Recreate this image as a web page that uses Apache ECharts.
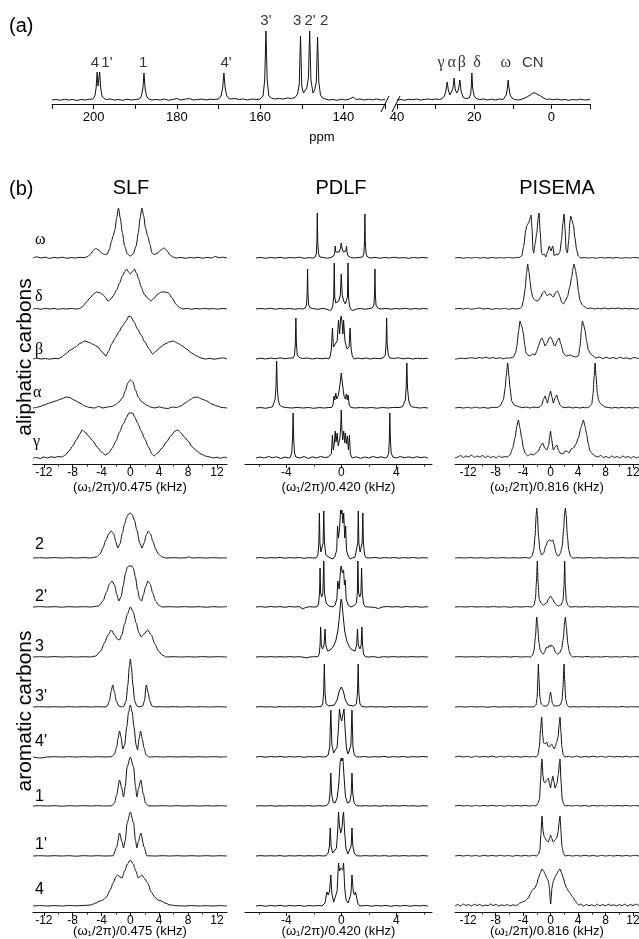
<!DOCTYPE html>
<html><head><meta charset="utf-8">
<script src="https://cdn.jsdelivr.net/npm/echarts@6.0.0/dist/echarts.min.js"></script>
<style>html,body{margin:0;padding:0;background:#fff}#c{width:639px;height:939px}</style>
</head><body><div id="c"></div>
<script>
// ---------------- DATA ----------------
// Panel (a): 1D 13C spectrum, [ppm, intensity]
const specLeft = [[210,0],[209,0.5],[208,-0.3],[207,0.8],[206,0],[205,0.5],[204,-0.5],[203,0.5],[202,0],[201,0.8],[200.2,1],[199.7,4],[199.4,12],[199.15,28],[198.95,14],[198.8,12],[198.55,28],[198.3,12],[198.0,4],[197.5,1.5],[197,0.5],[196,1],[195,0],[194,0.5],[193,-0.3],[192,0.8],[191,0],[190,0.5],[189,1],[188.5,4],[188.15,12],[187.9,27],[187.65,12],[187.3,4],[186.8,1],[186,0],[185,0.5],[184,0],[183,1],[182,-0.3],[181,0.5],[180,1.5],[179,0],[178,0.8],[177,1.5],[176,0],[175,0.5],[174,1],[173,0],[172,0.8],[171,0.5],[170,1],[169.4,4],[169.0,12],[168.7,27],[168.4,12],[168.0,4],[167.4,1],[167,0.5],[166,1.5],[165,0.5],[164,1],[163,0],[162,1],[161,0.5],[160,1],[159.3,4],[158.9,20],[158.6,69],[158.3,20],[157.9,4],[157.3,2],[156.5,1],[155.5,1.5],[154.5,1],[153.5,2],[152.5,1.5],[151.6,2.5],[151.0,6],[150.6,16],[150.3,64],[150.0,14],[149.6,7],[149.2,6],[148.8,12],[148.4,22],[148.1,69],[147.8,20],[147.3,7],[146.9,10],[146.5,18],[146.2,63],[145.9,18],[145.5,5],[145.0,2],[144.3,1],[143.5,0],[142.5,0.5],[141.5,-0.3],[140.5,0.8],[139.5,0],[138.5,1],[137.6,3],[137,0.5],[136,1],[135,0],[134,0.8],[133,0.2],[132,1],[131,0],[130,0.5]];
const specRight = [[40,0],[39,0.5],[38,-0.3],[37,0.8],[36,0.3],[35,1],[34,0],[33,0.5],[32,1],[31,0.5],[30,1],[29,0.5],[28.3,1.5],[27.7,4],[27.3,10],[27.0,18],[26.7,10],[26.3,5],[25.9,8],[25.5,12],[25.2,22],[24.9,10],[24.5,7],[24.1,10],[23.7,20],[23.4,9],[22.9,3],[22.3,1.5],[21.8,1],[21.3,2],[20.9,6],[20.75,14],[20.6,27],[20.4,12],[20.0,4],[19.5,1.5],[18.5,0.5],[17.5,1],[16.5,0],[15.5,0.8],[14.5,0],[13.5,1],[12.5,0.5],[12,1.5],[11.7,5],[11.4,12],[11.2,20],[11.0,12],[10.7,5],[10.2,2],[9.5,0.5],[8.5,0],[7.5,1],[7,1.5],[6.3,3],[5.5,5],[4.8,7],[4.2,7],[3.5,5.5],[2.8,4],[2.0,2],[1.2,0.5],[0.5,1],[-0.5,0.3],[-1.5,1],[-2.5,0],[-3.5,0.5],[-4.5,-0.3],[-5.5,0.5],[-6.5,0],[-7.5,0.8],[-8.5,0],[-10,0.5]];
const peakLabelsLeft = ["4","1'","1","4'","3'","3","2'","2"];
const peakLabelPpmLeft = [199.7,196.8,188.1,168.2,158.6,151.1,148.0,144.6];
const peakLabelLevelLeft = [37,37,37,37,79,79,79,79];
const peakLabelsRight = ["γ","α","β","δ","ω","CN"];
const peakLabelPpmRight = [28.6,25.8,23.2,19.3,11.8,4.8];
const peakLabelLevelRight = [37,37,37,37,37,37];
const ppmTicksLeft = [140,160,180,200];
const ppmMinorLeft = [130,140,150,160,170,180,190,200,210];
const ppmTicksRight = [0,20,40];
const ppmMinorRight = [-10,0,10,20,30,40];

// Panel (b) row labels
const aliLabels = ["ω","δ","β","α","γ"];
const aroLabels = ["2","2'","3","3'","4'","1","1'","4"];
const slfTicks = [-12,-8,-4,0,4,8,12], slfMinor = [-10,-6,-2,2,6,10];
const pdlfTicks = [-4,0,4], pdlfMinor = [-6,-2,2,6];
const pisTicks = [-12,-8,-4,0,4,8,12], pisMinor = [-10,-6,-2,2,6,10];

// SLF aliphatic
const slfOmega = [[-13.5,0],[-13,1.2],[-12.4,0],[-11.8,0.8],[-11.2,-0.4],[-10.6,0.6],[-10,0],[-9.4,0.8],[-8.8,-0.3],[-8.2,0.5],[-7.6,0],[-7,0.7],[-6.4,0.3],[-5.9,1.5],[-5.5,4],[-5.1,8],[-4.8,9.5],[-4.4,8],[-4,5],[-3.6,3.5],[-3.2,4],[-2.9,9],[-2.6,17],[-2.4,22],[-2.15,28],[-1.9,40],[-1.65,50],[-1.4,40],[-1.1,25],[-0.8,12],[-0.4,4],[0,2],[0.4,4],[0.8,12],[1.1,25],[1.35,40],[1.6,50],[1.85,42],[2.1,30],[2.4,22],[2.7,14],[3.0,5],[3.3,3.5],[3.7,4.5],[4.2,8],[4.7,10],[5.1,7],[5.5,3],[5.9,1],[6.4,0],[7,0.6],[7.6,-0.3],[8.2,0.5],[8.8,0],[9.4,0.7],[10,-0.2],[10.6,0.6],[11.2,0],[11.8,1.5],[12.3,0.2],[12.8,0.8],[13.4,0]];
const slfDelta = [[-13.5,0],[-13,0.5],[-12.4,-0.3],[-11.8,0.7],[-11.2,0],[-10.6,0.5],[-10,-0.3],[-9.4,0.4],[-8.8,0],[-8.2,0.6],[-7.6,0],[-7.1,0.3],[-6.6,2.5],[-6.1,7],[-5.6,11],[-5.1,15],[-4.7,17],[-4.3,16.5],[-3.9,15],[-3.5,12],[-3.1,8],[-2.7,10],[-2.3,14],[-1.9,19],[-1.5,26],[-1.1,33],[-0.8,37],[-0.5,40],[-0.25,37],[0,35],[0.25,37],[0.55,40],[0.85,36],[1.15,30],[1.5,22],[1.9,15],[2.4,11],[2.85,8],[3.3,11],[3.8,15],[4.3,17],[4.8,17],[5.3,16],[5.8,11],[6.3,5],[6.8,1.5],[7.3,0],[7.9,0.6],[8.5,-0.2],[9.1,0.5],[9.7,0],[10.3,0.7],[10.9,0],[11.5,0.5],[12.1,-0.2],[12.7,0.5],[13.4,0]];
const slfBeta = [[-13.5,0],[-13,0.8],[-12.4,0],[-11.8,0.5],[-11.2,-0.2],[-10.6,0.6],[-10,0.3],[-9.5,2],[-9,5],[-8.3,9],[-7.6,12],[-7,15.5],[-6.3,18],[-5.7,16.5],[-5.1,14.5],[-4.5,12],[-3.9,7],[-3.4,3],[-3.0,8],[-2.6,15],[-2.1,21],[-1.6,27],[-1.1,33],[-0.6,38],[-0.2,43],[0.1,42],[0.5,37],[1.0,30],[1.5,24],[2.0,17],[2.6,10],[3.1,5],[3.6,8],[4.2,12],[4.8,15],[5.4,17],[6.0,18],[6.5,16],[7.1,13.5],[7.8,10],[8.5,6],[9.2,3],[9.8,1],[10.4,0],[11,0.6],[11.6,-0.2],[12.2,0.5],[12.8,1.2],[13.4,0]];
const slfAlpha = [[-13.5,0],[-13,0.5],[-12.5,1.5],[-12,3],[-11.2,5],[-10.4,7],[-9.6,9],[-8.9,11],[-8.4,10.5],[-7.8,8],[-7.0,5],[-6.3,2],[-5.6,0.5],[-5,0],[-4.4,1.5],[-3.8,0],[-3.2,1],[-2.6,1.5],[-2.1,3],[-1.6,6],[-1.1,10],[-0.7,17],[-0.35,25],[0,28],[0.35,26],[0.7,18],[1.1,11],[1.6,6],[2.2,3],[2.8,1],[3.4,0],[4,1.2],[4.6,0],[5.2,-0.5],[5.8,1],[6.4,0.5],[7,2],[7.6,5],[8.2,8],[8.8,10.5],[9.3,11],[9.9,9],[10.6,7],[11.3,4],[12,2],[12.7,0.5],[13.4,0]];
const slfGamma = [[-13.5,0],[-13,0.5],[-12.5,-0.5],[-12,1],[-11.5,0],[-11,1.2],[-10.5,0.5],[-10,1.5],[-9.5,1],[-9,3],[-8.5,7],[-8,12],[-7.5,18],[-7,24],[-6.7,28],[-6.3,26],[-5.8,22],[-5.2,17],[-4.6,11],[-4.0,6],[-3.5,3],[-3.0,5],[-2.5,10],[-2.0,17],[-1.5,26],[-1.0,34],[-0.5,41],[-0.2,45],[0.3,45],[0.6,41],[1.0,35],[1.5,27],[2.0,19],[2.5,11],[3.0,4],[3.3,2],[3.8,5],[4.4,10],[5,16],[5.6,22],[6.2,27],[6.6,28],[7,25],[7.5,21],[8,17],[8.6,11],[9.2,7],[9.8,4],[10.4,2],[11,1],[11.5,0],[12,0.8],[12.5,-0.3],[13,0.8],[13.4,0]];
// SLF aromatic
const slf2 = [[-13.5,0],[-12.5,0.3],[-11.5,0],[-10.5,0.4],[-9.5,0],[-8.5,0.3],[-7.5,0],[-6.5,0.4],[-5.5,0],[-4.7,1],[-4.2,4],[-3.8,10],[-3.4,18],[-3.0,24],[-2.65,27],[-2.3,24],[-2.0,16],[-1.75,10],[-1.45,14],[-1.1,25],[-0.8,34],[-0.5,41],[-0.2,44.5],[0,45],[0.25,43.5],[0.55,38],[0.9,28],[1.3,15],[1.6,10],[1.9,15],[2.2,23],[2.5,27],[2.8,24],[3.1,17],[3.5,9],[3.9,4],[4.4,1],[5,0],[6,0.3],[7,0],[7.7,0.2],[8.1,1.2],[8.5,0],[9.5,0.3],[10.5,0],[11.5,0.3],[12.5,0],[13.4,0.2]];
const slf2p = [[-13.5,0],[-12.5,0.4],[-11.5,0],[-10.5,0.3],[-9.5,-0.2],[-8.5,0.3],[-7.5,0],[-6.5,0.3],[-5.5,0],[-4.4,1],[-3.8,6],[-3.3,15],[-2.9,23],[-2.55,26],[-2.2,22],[-1.9,13],[-1.6,6],[-1.3,10],[-1.0,21],[-0.7,33],[-0.4,40],[-0.2,41],[0.2,41],[0.4,39],[0.7,30],[1.0,17],[1.3,8],[1.55,6],[1.8,12],[2.1,20],[2.45,26],[2.75,23],[3.1,14],[3.5,6],[3.9,2],[4.4,0],[5.5,0.3],[6.5,0],[7.5,0.3],[8.5,0],[9.5,0.3],[10.5,-0.2],[11.5,0.3],[12.5,0],[13.4,0.3]];
const slf3 = [[-13.5,0],[-12.5,0.3],[-11.5,0],[-10.5,0.4],[-9.5,0],[-8.5,0.3],[-7.5,0],[-6.5,0.3],[-5.5,0],[-4.8,1],[-4.1,6],[-3.6,14],[-3.1,22],[-2.65,27],[-2.2,22],[-1.8,18],[-1.5,17],[-1.2,22],[-0.8,33],[-0.4,43],[0,50],[0.4,45],[0.8,34],[1.2,24],[1.5,20],[1.9,23],[2.4,27],[2.9,22],[3.4,13],[3.9,6],[4.4,2],[5,0],[6,0.3],[7,0],[8,0.3],[9,0],[10,0.4],[11,0],[12,0.3],[13.4,0]];
const slf3p = [[-13.5,0],[-12.5,0.3],[-11.5,0],[-10.5,0.3],[-9.5,0],[-8.5,0.3],[-7.5,0],[-6.5,0.3],[-5.5,0],[-4.5,0.3],[-3.5,0],[-3.2,1],[-2.9,6],[-2.65,16],[-2.45,22],[-2.2,15],[-1.95,6],[-1.6,1],[-1.2,0],[-0.9,1],[-0.6,6],[-0.35,22],[-0.15,40],[0,48],[0.15,40],[0.35,22],[0.6,6],[0.9,1],[1.2,0],[1.7,1],[1.95,6],[2.2,22],[2.45,15],[2.7,6],[3.0,1],[3.4,0],[4.2,0.3],[5,0],[6,0.3],[7,0],[8,0.3],[9,0],[10,0.3],[11,0],[12,0.3],[13.4,0]];
const slf4p = [[-13.5,0],[-12.5,-1],[-11.5,0],[-10.5,0.3],[-9.5,0],[-8.5,0.3],[-7.5,0],[-6.5,0.3],[-5.5,0],[-4.5,0.3],[-3.5,0],[-2.6,0.3],[-2.2,3],[-1.9,10],[-1.7,19],[-1.5,26],[-1.3,20],[-1.05,8],[-0.8,12],[-0.5,30],[-0.25,45],[0,52],[0.25,45],[0.5,30],[0.8,12],[1.0,7],[1.2,18],[1.42,26],[1.65,18],[1.9,9],[2.2,2],[2.6,0],[3.5,0.3],[4.5,0],[5.5,0.3],[6.5,0],[7.5,0.3],[8.5,0],[9.5,0.3],[10.5,0],[11.5,0.3],[12.5,0],[13.4,0.2]];
const slf1 = [[-13.5,0],[-12.5,0.3],[-11.5,0],[-10.5,0.3],[-9.5,-0.2],[-8.5,0.3],[-7.5,0],[-6.5,0.3],[-5.5,0],[-4.5,0.3],[-3.5,0],[-2.6,0.2],[-2.2,3],[-1.9,11],[-1.5,26],[-1.2,18],[-0.95,9],[-0.7,20],[-0.45,39],[0,49],[0.45,39],[0.7,20],[0.9,9],[1.15,18],[1.45,26],[1.8,12],[2.1,3],[2.5,0.2],[3.5,0],[4.5,0.3],[5.5,0],[6.5,0.3],[7.5,0],[8.5,0.3],[9.5,0],[10.5,0.3],[11.5,0],[12.5,0.3],[13.4,0]];
const slf1p = [[-13.5,0],[-12.5,0.3],[-11.5,0],[-10.5,0.3],[-9.5,0],[-8.5,0.3],[-7.5,-0.2],[-6.5,0.3],[-5.5,0],[-4.5,0.3],[-3.5,0],[-2.4,0.2],[-1.9,9],[-1.5,23],[-1.15,14],[-0.95,8],[-0.7,16],[-0.45,33],[0,44],[0.45,33],[0.7,16],[0.9,8],[1.1,14],[1.45,23],[1.9,9],[2.3,0.2],[3.5,0],[4.5,0.3],[5.5,0],[6.5,0.3],[7.5,0],[8.5,0.3],[9.5,0],[10.5,0.3],[11.5,0],[12.5,0.3],[13.4,0]];
const slf4 = [[-13.5,0],[-12.5,0.5],[-11.5,0],[-10.5,0.4],[-9.5,0],[-8.5,0.5],[-7.5,0.2],[-6.5,0.5],[-5.5,1],[-4.8,3],[-4.2,5],[-3.8,6],[-3.3,9],[-2.8,16],[-2.4,23],[-2.0,29],[-1.75,31],[-1.45,29],[-1.15,28],[-0.8,35],[-0.4,42],[0,46],[0.4,42],[0.75,35],[1.1,28],[1.3,29],[1.6,31],[1.9,28],[2.4,23],[2.9,14],[3.4,9],[3.8,6],[4.3,5],[4.8,3],[5.5,1],[6.5,0.3],[7.5,0],[8.5,0.4],[9.5,0],[10.5,0.3],[11.5,0],[12.5,0.4],[13.4,0]];

// PDLF aliphatic
const pdlfOmega = [[-6.2,0],[-5.85,0.6],[-5.5,-0.3],[-5.15,0.5],[-4.8,0],[-4.45,0.7],[-4.1,-0.2],[-3.75,0.5],[-3.4,0.1],[-3.05,0.8],[-2.7,-0.3],[-2.35,0.4],[-2.05,0],[-1.9,1],[-1.82,4],[-1.77,16],[-1.74,45],[-1.71,16],[-1.65,4],[-1.55,1],[-1.3,0.4],[-1.0,-0.2],[-0.75,0.6],[-0.55,2],[-0.47,6],[-0.44,12],[-0.4,6],[-0.3,4],[-0.15,6],[-0.05,10],[0,15],[0.05,10],[0.15,6],[0.28,4],[0.34,7],[0.38,12],[0.42,6],[0.5,2],[0.7,0.5],[1.0,0],[1.3,0.6],[1.55,1],[1.64,4],[1.69,16],[1.72,44],[1.75,16],[1.81,4],[1.9,1],[2.1,0],[2.45,0.6],[2.8,-0.2],[3.15,0.5],[3.5,0],[3.85,0.7],[4.2,0],[4.55,0.4],[4.9,-0.3],[5.25,0.5],[5.6,0],[5.95,0.6],[6.3,0]];
const pdlfDelta = [[-6.2,0],[-5.85,0.5],[-5.5,0],[-5.15,0.7],[-4.8,-0.2],[-4.45,0.5],[-4.1,0],[-3.75,0.6],[-3.4,-0.3],[-3.05,0.4],[-2.8,0],[-2.62,1],[-2.53,4],[-2.48,15],[-2.45,40],[-2.42,15],[-2.37,4],[-2.25,1],[-2.0,0.3],[-1.7,-0.3],[-1.4,0.5],[-1.1,0],[-0.85,-1.5],[-0.7,-0.5],[-0.62,3],[-0.55,12],[-0.51,46],[-0.47,12],[-0.4,6],[-0.3,5],[-0.18,8],[-0.07,14],[0,35],[0.07,14],[0.18,8],[0.3,5],[0.4,6],[0.45,12],[0.49,46],[0.53,12],[0.6,3],[0.7,-0.5],[0.85,-1.5],[1.1,0],[1.4,0.5],[1.7,-0.2],[2.0,0.3],[2.25,1],[2.38,4],[2.42,15],[2.45,40],[2.48,15],[2.53,4],[2.65,1],[2.9,0],[3.25,0.6],[3.6,-0.2],[3.95,0.5],[4.3,0],[4.65,0.7],[5.0,-0.2],[5.35,0.5],[5.7,0],[6.0,0.6],[6.3,0]];
const pdlfBeta = [[-6.2,0],[-5.85,0.8],[-5.5,0],[-5.15,1],[-4.8,0.2],[-4.45,1.2],[-4.1,0.3],[-3.75,1],[-3.5,1],[-3.4,4],[-3.34,15],[-3.3,41],[-3.26,15],[-3.2,4],[-3.05,1.5],[-2.8,0.5],[-2.45,1],[-2.1,0],[-1.75,0.8],[-1.4,0.2],[-1.1,1],[-0.9,0],[-0.8,3],[-0.72,10],[-0.64,31],[-0.57,12],[-0.45,10],[-0.3,18],[-0.2,39],[-0.12,25],[-0.05,40],[0,43],[0.05,38],[0.12,25],[0.17,39],[0.27,18],[0.42,10],[0.57,12],[0.64,31],[0.72,10],[0.8,3],[0.95,0],[1.2,1],[1.5,0.2],[1.8,1],[2.1,0],[2.45,0.8],[2.8,0.3],[3.05,1.2],[3.2,4],[3.26,15],[3.3,41],[3.34,15],[3.42,4],[3.55,1],[3.8,0.5],[4.15,1.2],[4.5,0.2],[4.85,1],[5.2,0],[5.55,0.8],[5.9,0.3],[6.3,0.8]];
const pdlfAlpha = [[-6.2,0],[-5.85,0.5],[-5.5,-0.3],[-5.2,0.6],[-5.0,1.2],[-4.9,3],[-4.82,8],[-4.75,20],[-4.7,47],[-4.65,20],[-4.58,8],[-4.48,3],[-4.3,1.2],[-4.0,0.5],[-3.6,0],[-3.2,0.6],[-2.8,0],[-2.4,0.5],[-2.0,-0.3],[-1.6,0.4],[-1.2,0],[-0.9,0.5],[-0.7,0.5],[-0.6,3],[-0.53,12],[-0.47,8],[-0.4,15],[-0.33,9],[-0.2,13],[-0.08,25],[0,35],[0.08,25],[0.2,12],[0.3,9],[0.37,14],[0.44,8],[0.5,13],[0.58,3],[0.7,0.5],[1.0,0],[1.4,0.5],[1.8,0],[2.2,0.5],[2.6,-0.2],[3.0,0.5],[3.4,0],[3.8,0.6],[4.2,0.5],[4.45,1.2],[4.58,3],[4.66,8],[4.72,20],[4.77,45],[4.82,20],[4.9,8],[5.0,3],[5.15,1.2],[5.4,0.5],[5.75,0],[6.0,0.5],[6.3,0]];
const pdlfGamma = [[-6.2,0],[-5.9,1],[-5.6,0],[-5.3,1.5],[-5.0,0.3],[-4.7,1.2],[-4.4,-0.5],[-4.1,1],[-3.85,0],[-3.7,1],[-3.6,5],[-3.54,20],[-3.5,45],[-3.46,20],[-3.4,5],[-3.3,1],[-3.0,0],[-2.7,1.5],[-2.4,-0.5],[-2.1,1.2],[-1.8,0],[-1.5,1.5],[-1.2,0.5],[-0.95,1],[-0.85,0],[-0.72,4],[-0.64,23],[-0.58,8],[-0.5,15],[-0.44,27],[-0.38,16],[-0.3,25],[-0.22,12],[-0.1,20],[-0.04,30],[0,48],[0.04,30],[0.1,18],[0.18,27],[0.25,15],[0.3,25],[0.38,14],[0.45,22],[0.52,8],[0.6,23],[0.66,4],[0.8,0],[1.1,1.2],[1.4,-0.3],[1.7,1],[2.0,0],[2.3,1.5],[2.6,0.3],[2.9,1.2],[3.2,0],[3.35,1],[3.45,5],[3.5,20],[3.53,45],[3.57,20],[3.63,5],[3.75,1],[4.0,0],[4.3,1.5],[4.6,0.2],[4.9,1.2],[5.2,0],[5.5,1.3],[5.8,0.3],[6.05,1],[6.3,0]];
// PDLF aromatic
const pdlf2 = [[-6.2,0],[-5.85,0.5],[-5.5,-0.2],[-5.15,0.4],[-4.8,0],[-4.45,0.6],[-4.1,-0.2],[-3.75,0.4],[-3.4,0],[-3.05,0.5],[-2.7,-0.3],[-2.35,0.3],[-2.05,0],[-1.8,0.3],[-1.7,3],[-1.63,15],[-1.59,45],[-1.55,15],[-1.48,6],[-1.4,6],[-1.32,15],[-1.27,47],[-1.22,15],[-1.12,3],[-1.0,1],[-0.8,0],[-0.6,-1],[-0.45,2],[-0.33,8],[-0.27,32],[-0.2,20],[-0.12,30],[-0.05,48],[0,44],[0.05,48],[0.12,35],[0.18,45],[0.25,20],[0.32,32],[0.38,8],[0.5,2],[0.65,-1],[0.8,0],[1.0,1],[1.1,3],[1.2,15],[1.24,47],[1.28,15],[1.37,6],[1.46,6],[1.52,15],[1.57,45],[1.61,15],[1.7,3],[1.8,0.3],[2.1,0],[2.45,0.5],[2.8,-0.2],[3.15,0.4],[3.5,0],[3.85,0.5],[4.2,-0.2],[4.55,0.4],[4.9,0],[5.25,0.5],[5.6,-0.2],[5.95,0.3],[6.3,0]];
const pdlf2p = [[-6.2,0],[-5.85,0.4],[-5.5,-0.2],[-5.15,0.5],[-4.8,0],[-4.45,0.4],[-4.1,-0.3],[-3.75,0.5],[-3.4,0],[-3.05,0.4],[-2.8,-2],[-2.6,-0.5],[-2.3,0.3],[-2.0,0],[-1.75,0.3],[-1.65,3],[-1.58,14],[-1.54,39],[-1.5,14],[-1.42,10],[-1.34,14],[-1.27,46],[-1.22,14],[-1.1,4],[-0.9,1],[-0.6,0],[-0.45,2],[-0.32,8],[-0.25,26],[-0.15,18],[-0.05,38],[0,41],[0.08,34],[0.17,37],[0.23,22],[0.29,27],[0.36,8],[0.5,2],[0.7,0],[0.9,1],[1.1,4],[1.17,14],[1.21,46],[1.26,14],[1.35,10],[1.43,14],[1.48,39],[1.53,14],[1.62,3],[1.75,0.3],[2.0,0],[2.4,-0.3],[2.7,-1.5],[3.0,0],[3.35,0.5],[3.7,0],[4.05,0.4],[4.4,-0.2],[4.75,0.5],[5.1,0],[5.45,0.4],[5.8,-0.2],[6.3,0.3]];
const pdlf3 = [[-6.2,0],[-5.85,0.3],[-5.5,0],[-5.15,0.4],[-4.8,0],[-4.45,0.3],[-4.1,0],[-3.75,0.4],[-3.4,0],[-3.05,0.3],[-2.7,-0.3],[-2.5,-1],[-2.3,0],[-2.0,0.3],[-1.7,0.3],[-1.6,3],[-1.54,12],[-1.5,30],[-1.45,12],[-1.36,8],[-1.25,12],[-1.18,28],[-1.12,12],[-1.0,6],[-0.8,7],[-0.6,10],[-0.4,16],[-0.25,26],[-0.12,42],[-0.04,55],[0,58],[0.05,55],[0.13,42],[0.25,26],[0.4,16],[0.6,10],[0.8,7],[1.0,6],[1.12,12],[1.18,28],[1.24,12],[1.36,8],[1.45,12],[1.5,30],[1.55,12],[1.62,3],[1.75,0.3],[2.0,0],[2.35,0.4],[2.7,-0.5],[3.05,0.3],[3.4,0],[3.75,0.4],[4.1,0],[4.45,0.3],[4.8,0],[5.15,0.4],[5.5,0],[5.85,0.3],[6.3,0]];
const pdlf3p = [[-6.2,0],[-5.85,0.4],[-5.5,0],[-5.15,0.3],[-4.8,-0.2],[-4.45,0.4],[-4.1,0],[-3.75,0.3],[-3.4,0],[-3.05,0.4],[-2.7,0],[-2.35,0.3],[-2.0,0],[-1.7,0.3],[-1.45,0.5],[-1.35,3],[-1.28,14],[-1.23,43],[-1.18,14],[-1.1,3],[-0.9,1],[-0.5,2],[-0.3,7],[-0.15,16],[0,20],[0.15,16],[0.3,7],[0.5,2],[0.9,1],[1.1,3],[1.18,14],[1.23,43],[1.28,14],[1.36,3],[1.5,0.5],[1.8,0],[2.15,0.4],[2.5,0],[2.85,0.3],[3.2,-0.2],[3.55,0.4],[3.9,0],[4.25,0.3],[4.6,0],[4.95,0.4],[5.3,0],[5.65,0.3],[6.0,0],[6.3,0.3]];
const pdlf4p = [[-6.2,0],[-5.85,0.5],[-5.5,-0.2],[-5.15,0.5],[-4.8,0],[-4.45,0.6],[-4.1,-0.2],[-3.75,0.4],[-3.4,0],[-3.05,0.5],[-2.7,-0.3],[-2.35,0.4],[-2.0,0],[-1.65,0.5],[-1.3,0],[-1.1,0.3],[-0.95,2],[-0.84,10],[-0.76,47],[-0.68,12],[-0.55,4],[-0.42,3],[-0.3,10],[-0.2,30],[-0.13,48],[-0.05,40],[0.03,36],[0.12,42],[0.2,48],[0.28,28],[0.38,8],[0.5,3],[0.62,4],[0.7,12],[0.78,47],[0.85,10],[0.95,2],[1.1,0.3],[1.35,0],[1.7,0.5],[2.05,-0.2],[2.4,0.4],[2.75,0],[3.1,0.6],[3.45,-0.2],[3.8,0.4],[4.15,0],[4.5,0.5],[4.85,-0.2],[5.2,0.4],[5.55,0],[5.9,0.5],[6.3,0]];
const pdlf1 = [[-6.2,0],[-5.85,0.3],[-5.5,0],[-5.15,0.4],[-4.8,-0.2],[-4.45,0.3],[-4.1,0],[-3.75,0.4],[-3.4,0],[-3.05,0.3],[-2.7,0],[-2.35,0.4],[-2.0,-0.2],[-1.65,0.3],[-1.3,0],[-1.1,0.3],[-0.9,3],[-0.82,12],[-0.76,33],[-0.7,12],[-0.6,4],[-0.45,3],[-0.3,8],[-0.18,22],[-0.08,44],[0,48],[0.05,45],[0.12,48],[0.2,30],[0.3,10],[0.45,3],[0.62,4],[0.72,12],[0.78,33],[0.84,12],[0.94,3],[1.1,0.3],[1.4,0],[1.75,0.4],[2.1,0],[2.45,0.3],[2.8,-0.2],[3.15,0.4],[3.5,0],[3.85,0.3],[4.2,0],[4.55,0.4],[4.9,0],[5.25,0.3],[5.6,-0.2],[5.95,0.3],[6.3,0]];
const pdlf1p = [[-6.2,0],[-5.85,0.4],[-5.5,0],[-5.15,0.3],[-4.8,0],[-4.45,0.4],[-4.1,-0.2],[-3.75,0.3],[-3.4,0],[-3.05,0.4],[-2.7,0],[-2.35,0.3],[-2.0,0],[-1.65,0.4],[-1.3,0],[-1.1,0.3],[-0.95,3],[-0.86,10],[-0.8,28],[-0.74,10],[-0.62,3],[-0.48,2],[-0.35,8],[-0.26,25],[-0.2,44],[-0.13,30],[-0.04,23],[0.05,28],[0.12,40],[0.17,44],[0.24,25],[0.34,8],[0.48,2],[0.62,3],[0.72,10],[0.78,28],[0.84,10],[0.95,3],[1.1,0.3],[1.4,0],[1.75,0.4],[2.1,0],[2.45,0.3],[2.8,0],[3.15,0.4],[3.5,-0.2],[3.85,0.3],[4.2,0],[4.55,0.4],[4.9,0],[5.25,0.3],[5.6,0],[5.95,0.4],[6.3,0]];
const pdlf4 = [[-6.2,0],[-5.85,0.6],[-5.5,-0.3],[-5.15,0.5],[-4.8,0],[-4.45,0.7],[-4.1,-0.2],[-3.75,0.5],[-3.4,0],[-3.05,0.6],[-2.7,-0.3],[-2.35,0.5],[-2.0,0],[-1.65,0.6],[-1.4,0],[-1.3,0.5],[-1.18,3],[-1.1,10],[-1.04,14],[-0.95,11],[-0.85,15],[-0.76,31],[-0.68,12],[-0.55,4],[-0.42,4],[-0.3,15],[-0.2,43],[-0.12,35],[-0.03,38],[0.05,40],[0.12,36],[0.17,43],[0.25,18],[0.35,6],[0.5,3],[0.62,4],[0.7,12],[0.78,31],[0.87,15],[0.96,11],[1.03,14],[1.1,10],[1.2,3],[1.3,0.5],[1.5,0],[1.85,0.6],[2.2,-0.2],[2.55,0.5],[2.9,0],[3.25,0.6],[3.6,-0.3],[3.95,0.5],[4.3,0],[4.65,0.6],[5.0,-0.2],[5.35,0.5],[5.7,0],[6.0,0.6],[6.3,0]];

// PISEMA aliphatic
const pisOmega = [[-13.9,0],[-13.3,0.5],[-12.7,-0.2],[-12.1,0.5],[-11.5,0],[-10.9,0.6],[-10.3,0],[-9.7,0.4],[-9.1,-0.2],[-8.5,0.5],[-7.9,0],[-7.3,0.4],[-6.7,0],[-6.1,0.6],[-5.5,0],[-5.0,0.4],[-4.6,0.5],[-4.2,2],[-3.9,12],[-3.6,28],[-3.47,32],[-3.2,35],[-2.95,40],[-2.84,43],[-2.7,30],[-2.55,8],[-2.45,5],[-2.25,14],[-2.0,25],[-1.8,40],[-1.67,45],[-1.5,25],[-1.3,5],[-1.1,3],[-0.9,4],[-0.7,1],[-0.45,6],[-0.17,12],[0.05,7],[0.32,12],[0.55,2],[0.8,4],[1.1,3],[1.35,6],[1.6,18],[1.8,35],[1.97,44],[2.12,28],[2.26,8],[2.45,5],[2.65,18],[2.8,35],[2.94,42],[3.1,38],[3.33,33],[3.55,20],[3.8,8],[4.05,2],[4.4,0],[4.9,0.5],[5.5,0],[6.1,0.4],[6.7,-0.2],[7.3,0.5],[7.9,0],[8.5,0.4],[9.1,0],[9.7,0.5],[10.3,-0.2],[10.9,0.4],[11.5,0],[12.1,0.5],[12.87,0]];
const pisDelta = [[-13.9,0],[-13.3,0.6],[-12.7,0],[-12.1,0.8],[-11.5,-0.2],[-10.9,0.5],[-10.3,1],[-9.7,0],[-9.1,0.6],[-8.5,-0.3],[-7.9,0.5],[-7.3,0],[-6.7,0.7],[-6.1,-0.2],[-5.5,0.5],[-5.0,0],[-4.5,0.5],[-4.2,2],[-3.96,8],[-3.7,20],[-3.5,35],[-3.33,45],[-3.15,38],[-2.99,28],[-2.8,18],[-2.6,12],[-2.3,9],[-2.0,8],[-1.7,9],[-1.43,12],[-1.15,16],[-0.9,18],[-0.65,15],[-0.46,13],[-0.2,15],[0,15],[0.2,13],[0.41,12],[0.7,16],[1.0,18],[1.2,15],[1.38,12],[1.6,7],[1.87,5],[2.15,8],[2.45,12],[2.8,22],[3.08,32],[3.25,40],[3.42,45],[3.6,40],[3.81,32],[4.05,18],[4.3,8],[4.65,4],[5.0,2],[5.4,0.5],[5.9,1],[6.4,0],[6.9,0.8],[7.4,0.2],[7.9,1],[8.4,0],[8.9,0.8],[9.4,0.3],[9.9,1],[10.4,0],[10.9,0.7],[11.4,0],[11.9,0.6],[12.4,0],[12.87,0.5]];
const pisBeta = [[-13.9,-0.5],[-13.4,0.5],[-12.9,0.8],[-12.4,0.3],[-11.9,1],[-11.4,1.2],[-10.9,0.5],[-10.4,1.5],[-9.9,0.8],[-9.4,1.8],[-8.9,0.6],[-8.4,1.5],[-7.9,0.5],[-7.4,1.3],[-6.9,0.2],[-6.4,1],[-5.8,1],[-5.4,2],[-5.1,6],[-4.9,13],[-4.65,28],[-4.44,38],[-4.2,33],[-3.96,26],[-3.75,14],[-3.57,6],[-3.3,4],[-2.99,3],[-2.6,5],[-2.26,4],[-2.0,8],[-1.77,13],[-1.5,18],[-1.29,21],[-1.05,18],[-0.8,13],[-0.5,16],[-0.2,21],[0,22],[0.25,19],[0.5,14],[0.66,13],[0.95,18],[1.24,21],[1.5,15],[1.87,6],[2.1,4],[2.35,3],[2.8,4],[3.2,3],[3.6,2],[4.05,3],[4.3,13],[4.5,30],[4.64,38],[4.82,34],[5.0,29],[5.25,18],[5.5,9],[5.85,5],[6.2,3],[6.6,1],[7.1,2],[7.6,0.5],[8.1,1.8],[8.6,0.5],[9.1,1.5],[9.6,0.3],[10.1,1.8],[10.6,0.5],[11.1,1.2],[11.6,0],[12.1,1.5],[12.87,0.5]];
const pisAlpha = [[-13.9,0],[-13.3,0.5],[-12.7,0],[-12.1,0.6],[-11.5,0],[-10.9,0.8],[-10.3,0],[-9.7,0.5],[-9.1,-0.2],[-8.5,0.6],[-7.8,0.5],[-7.35,2],[-6.87,8],[-6.6,20],[-6.45,32],[-6.24,45],[-6.05,32],[-5.9,20],[-5.65,7],[-5.3,3],[-4.93,2],[-4.5,1],[-4.0,0.3],[-3.5,1],[-3.0,0],[-2.5,1],[-2.0,0.3],[-1.6,1],[-1.29,3],[-1.0,9],[-0.8,12],[-0.6,8],[-0.46,5],[-0.2,12],[0,17],[0.2,11],[0.41,5],[0.65,10],[0.9,13],[1.1,8],[1.38,3],[1.7,1],[2.2,0.3],[2.7,1],[3.2,0],[3.7,0.8],[4.2,0],[4.7,0.6],[5.2,0.2],[5.6,1],[6.0,4],[6.2,15],[6.35,32],[6.48,45],[6.62,32],[6.8,15],[7.0,8],[7.2,5],[7.5,3],[7.93,1],[8.4,0.5],[8.9,0],[9.4,0.6],[9.9,0],[10.4,0.7],[10.9,0],[11.4,0.5],[11.9,0],[12.4,0.6],[12.87,0]];
const pisGamma = [[-13.9,0],[-13.5,1],[-13.1,2.5],[-12.7,0.5],[-12.3,2],[-11.9,1],[-11.5,3],[-11.1,0.5],[-10.7,2],[-10.3,1],[-9.9,2.5],[-9.5,0.5],[-9.1,2],[-8.7,0.5],[-8.3,1.5],[-7.9,0],[-7.5,2],[-7.1,0.5],[-6.7,1.5],[-6.3,1],[-5.9,3],[-5.5,10],[-5.17,20],[-4.9,32],[-4.68,38],[-4.45,30],[-4.2,20],[-3.95,10],[-3.7,5],[-3.3,2],[-2.9,4],[-2.5,3],[-2.1,5],[-1.77,7],[-1.45,12],[-1.14,15],[-0.85,10],[-0.56,8],[-0.3,12],[-0.1,22],[0,27],[0.12,20],[0.41,8],[0.65,11],[0.9,13],[1.15,8],[1.38,5],[1.8,4],[2.1,7],[2.35,7],[2.7,5],[3.0,9],[3.33,10],[3.7,14],[4.05,20],[4.4,30],[4.78,38],[5.0,32],[5.27,23],[5.5,14],[5.75,7],[6.1,4],[6.48,2],[6.9,1],[7.3,2.5],[7.7,0.5],[8.1,1.5],[8.5,0],[8.9,2],[9.3,0.5],[9.7,1.5],[10.1,0],[10.5,2],[10.9,0.5],[11.3,1.5],[11.7,0],[12.1,1.5],[12.5,0],[12.87,1]];
// PISEMA aromatic
const pis2 = [[-13.9,0],[-13.3,0.3],[-12.5,0],[-11.7,0.4],[-10.9,0],[-10.1,0.3],[-9.3,-0.2],[-8.5,0.3],[-7.7,0],[-6.9,0.4],[-6.1,0],[-5.3,0.3],[-4.5,0],[-3.7,0.4],[-3.0,0],[-2.7,2],[-2.45,8],[-2.25,22],[-2.1,42],[-2.01,50],[-1.9,42],[-1.75,22],[-1.55,8],[-1.29,3],[-1.0,5],[-0.7,12],[-0.4,17],[-0.17,18],[0.1,17],[0.32,18],[0.55,13],[0.75,6],[0.9,3],[1.2,2],[1.45,5],[1.7,12],[1.92,30],[2.05,45],[2.16,50],[2.28,42],[2.45,22],[2.65,8],[2.9,2],[3.2,0],[4.0,0.3],[4.8,0],[5.6,0.4],[6.4,0],[7.2,0.3],[8.0,-0.2],[8.8,0.3],[9.6,0],[10.4,0.4],[11.2,0],[12.0,0.3],[12.87,0]];
const pis2p = [[-13.9,0],[-13.1,0.3],[-12.3,0],[-11.5,0.4],[-10.7,0],[-9.9,0.3],[-9.1,0],[-8.3,0.4],[-7.5,0],[-6.7,0.3],[-5.9,-0.2],[-5.1,0.3],[-4.3,0],[-3.5,0.4],[-2.7,0],[-2.4,2],[-2.2,8],[-2.05,25],[-1.92,46],[-1.82,25],[-1.65,8],[-1.4,4],[-1.04,2],[-0.6,4],[-0.3,8],[0,11],[0.3,8],[0.6,4],[0.9,2],[1.14,1],[1.5,2],[1.8,6],[1.95,20],[2.06,46],[2.15,22],[2.3,6],[2.5,2],[2.8,0],[3.6,0.3],[4.4,0],[5.2,0.4],[6.0,0],[6.8,0.3],[7.6,0],[8.4,0.4],[9.2,0],[10.0,0.3],[10.8,0],[11.6,0.3],[12.87,0]];
const pis3 = [[-13.9,0],[-13.1,0.4],[-12.3,0],[-11.5,0.3],[-10.7,0],[-9.9,0.5],[-9.1,0],[-8.3,0.3],[-7.5,0],[-6.7,0.4],[-5.9,0],[-5.1,0.5],[-4.3,0],[-3.5,0.3],[-2.9,0],[-2.6,2],[-2.4,7],[-2.2,20],[-2.01,40],[-1.88,32],[-1.7,15],[-1.5,7],[-1.25,4],[-1.04,3],[-0.8,6],[-0.56,10],[-0.35,9],[-0.17,12],[0,10],[0.17,12],[0.41,10],[0.7,5],[1.0,3],[1.3,4],[1.6,8],[1.85,18],[2.05,35],[2.16,40],[2.3,30],[2.5,14],[2.7,6],[2.9,2],[3.2,0],[3.9,0.4],[4.6,0],[5.3,0.5],[6.0,0],[6.7,0.3],[7.4,0],[8.1,0.5],[8.8,0],[9.5,0.3],[10.2,0],[10.9,0.5],[11.6,0],[12.3,0.3],[12.87,0]];
const pis3p = [[-13.9,0],[-13.1,0.3],[-12.3,0],[-11.5,0.4],[-10.7,0],[-9.9,0.3],[-9.1,-0.2],[-8.3,0.4],[-7.5,0],[-6.7,0.3],[-5.9,0],[-5.1,0.4],[-4.3,0],[-3.5,0.3],[-2.8,0],[-2.4,0.3],[-2.1,2],[-1.95,10],[-1.85,28],[-1.77,43],[-1.68,28],[-1.55,10],[-1.35,3],[-1.0,1],[-0.5,1],[-0.25,4],[-0.1,11],[0,15],[0.1,11],[0.25,4],[0.5,1],[1.0,1],[1.4,2],[1.65,6],[1.82,20],[1.92,38],[1.97,43],[2.05,28],[2.2,8],[2.4,2],[2.7,0],[3.4,0.3],[4.1,0],[4.8,0.4],[5.5,0],[6.2,0.3],[6.9,0],[7.6,0.4],[8.3,0],[9.0,0.3],[9.7,0],[10.4,0.4],[11.1,0],[11.8,0.3],[12.87,0]];
const pis4p = [[-13.9,0],[-13.3,0.8],[-12.7,0],[-12.1,0.6],[-11.5,-0.3],[-10.9,0.8],[-10.3,0],[-9.7,0.6],[-9.1,0],[-8.5,0.8],[-7.9,-0.2],[-7.3,0.6],[-6.7,0],[-6.1,0.8],[-5.5,0],[-4.9,0.6],[-4.3,-0.2],[-3.7,0.7],[-3.1,0],[-2.5,0.6],[-2.1,0],[-1.85,2],[-1.63,10],[-1.45,28],[-1.29,40],[-1.15,22],[-1.0,14],[-0.8,13],[-0.56,15],[-0.35,11],[-0.17,10],[0,12],[0.17,13],[0.35,10],[0.56,8],[0.75,12],[0.9,15],[1.1,20],[1.25,32],[1.38,40],[1.5,26],[1.65,10],[1.87,2],[2.1,0],[2.6,0.6],[3.2,0],[3.8,0.8],[4.4,-0.2],[5.0,0.6],[5.6,0],[6.2,0.8],[6.8,0],[7.4,0.6],[8.0,-0.2],[8.6,0.8],[9.2,0],[9.8,0.6],[10.4,0],[11.0,0.8],[11.6,0],[12.2,0.6],[12.87,0]];
const pis1 = [[-13.9,0],[-13.3,0.6],[-12.7,0],[-12.1,0.5],[-11.5,-0.2],[-10.9,0.6],[-10.3,0],[-9.7,0.5],[-9.1,0],[-8.5,0.6],[-7.9,0],[-7.3,0.5],[-6.7,-0.2],[-6.1,0.6],[-5.5,0],[-4.9,0.5],[-4.3,0],[-3.7,0.6],[-3.1,0],[-2.5,0.5],[-2.1,0],[-1.8,3],[-1.6,7],[-1.45,25],[-1.3,44],[-1.24,47],[-1.1,30],[-0.95,24],[-0.8,23],[-0.55,26],[-0.32,28],[-0.15,22],[0,18],[0.15,24],[0.32,30],[0.5,24],[0.66,18],[0.9,22],[1.15,32],[1.3,44],[1.38,47],[1.52,25],[1.7,7],[1.9,2],[2.1,0],[2.6,0.5],[3.2,0],[3.8,0.6],[4.4,0],[5.0,0.5],[5.6,-0.2],[6.2,0.6],[6.8,0],[7.4,0.5],[8.0,0],[8.6,0.6],[9.2,0],[9.8,0.5],[10.4,0],[11.0,0.6],[11.6,0],[12.2,0.5],[12.87,0]];
const pis1p = [[-13.9,0],[-13.3,0.5],[-12.7,0],[-12.1,0.6],[-11.5,0],[-10.9,0.5],[-10.3,-0.2],[-9.7,0.6],[-9.1,0],[-8.5,0.5],[-7.9,0],[-7.3,0.6],[-6.7,0],[-6.1,0.5],[-5.5,-0.2],[-4.9,0.6],[-4.3,0],[-3.7,0.5],[-3.1,0],[-2.5,0.6],[-2.0,0],[-1.75,2],[-1.55,6],[-1.4,22],[-1.24,40],[-1.1,26],[-0.95,20],[-0.8,18],[-0.55,15],[-0.32,14],[-0.12,18],[0,21],[0.15,18],[0.41,14],[0.65,16],[0.9,18],[1.1,24],[1.25,34],[1.38,40],[1.5,26],[1.65,10],[1.87,3],[2.1,0],[2.6,0.6],[3.2,0],[3.8,0.5],[4.4,0],[5.0,0.6],[5.6,0],[6.2,0.5],[6.8,-0.2],[7.4,0.6],[8.0,0],[8.6,0.5],[9.2,0],[9.8,0.6],[10.4,0],[11.0,0.5],[11.6,0],[12.2,0.6],[12.87,0]];
const pis4 = [[-13.9,0],[-13.5,1.5],[-13.1,0],[-12.7,2],[-12.3,0.5],[-11.9,1.5],[-11.5,0],[-11.1,1.8],[-10.7,0.5],[-10.3,1.5],[-9.9,0],[-9.5,1],[-9.1,0.3],[-8.7,2],[-8.3,0.5],[-7.9,1.5],[-7.5,0],[-7.1,1.2],[-6.7,0.3],[-6.3,1.5],[-5.9,0],[-5.5,1.2],[-5.1,0.5],[-4.8,1],[-4.44,3],[-4.1,4],[-3.72,5],[-3.23,8],[-2.95,12],[-2.74,15],[-2.5,17],[-2.26,18],[-2.0,22],[-1.77,28],[-1.5,33],[-1.24,37],[-1.0,35],[-0.8,32],[-0.55,28],[-0.32,25],[-0.15,18],[-0.05,6],[0.02,2],[0.1,8],[0.2,18],[0.41,25],[0.65,29],[0.9,32],[1.15,35],[1.38,37],[1.6,33],[1.87,28],[2.1,22],[2.35,18],[2.6,15],[2.84,13],[3.1,10],[3.33,8],[3.6,5],[3.81,3],[4.1,1],[4.4,2],[4.8,0],[5.2,1.5],[5.6,0.3],[6.0,1.2],[6.4,0],[6.8,1.8],[7.2,0.3],[7.6,1.5],[8.0,0],[8.4,1.8],[8.8,0.5],[9.2,1.2],[9.6,0],[10.0,1.5],[10.4,0.3],[10.8,1.8],[11.2,0],[11.6,1.5],[12.0,0.5],[12.4,1.8],[12.87,0.5]];

// ---------------- LAYOUT / BUILD ----------------
const FONT = "'Liberation Sans', Arial, Helvetica, sans-serif";
const SERIF = "'Liberation Serif', 'Times New Roman', serif";
const INK = '#111';
const aliBase = [258, 309, 359, 408, 458];
const aroBase = [558, 607, 657, 707, 757, 806, 856, 906];

const columns = [
  {left:33, width:194, min:-13.5, max:13.4, ticks:slfTicks, minor:slfMinor, name:'(ω₁/2π)/0.475 (kHz)', smooth:0.25,
   ali:[slfOmega,slfDelta,slfBeta,slfAlpha,slfGamma], aro:[slf2,slf2p,slf3,slf3p,slf4p,slf1,slf1p,slf4]},
  {left:245, width:187, min:-7, max:6.6, ticks:pdlfTicks, minor:pdlfMinor, name:'(ω₁/2π)/0.420 (kHz)', smooth:false,
   ali:[pdlfOmega,pdlfDelta,pdlfBeta,pdlfAlpha,pdlfGamma], aro:[pdlf2,pdlf2p,pdlf3,pdlf3p,pdlf4p,pdlf1,pdlf1p,pdlf4]},
  {left:455, width:184, min:-13.9, max:12.87, ticks:pisTicks, minor:pisMinor, name:'(ω₁/2π)/0.816 (kHz)', smooth:0.2,
   ali:[pisOmega,pisDelta,pisBeta,pisAlpha,pisGamma], aro:[pis2,pis2p,pis3,pis3p,pis4p,pis1,pis1p,pis4]}
];

const grid = [], xAxis = [], yAxis = [], series = [];
const tickStyle = {color: INK, width: 1};

function addTrace(col, data, baseline, isBottom, nameGap) {
  const gi = grid.length;
  grid.push({left: col.left, width: col.width, top: baseline - 54, height: 60, outerBoundsMode: 'none'});
  const xi = xAxis.length;
  if (isBottom) {
    xAxis.push({gridIndex: gi, type: 'value', min: col.min, max: col.max, position: 'bottom',
      axisLine: {show: true, onZero: false, lineStyle: tickStyle},
      axisTick: {show: true, customValues: col.ticks, length: 4, lineStyle: tickStyle},
      axisLabel: {show: true, customValues: col.ticks, margin: 3, fontSize: 12, color: '#000', fontFamily: FONT},
      splitLine: {show: false},
      name: col.name, nameLocation: 'middle', nameGap: nameGap, nameMoveOverlap: false,
      nameTextStyle: {fontSize: 13, color: '#000', fontFamily: FONT}});
    xAxis.push({gridIndex: gi, type: 'value', min: col.min, max: col.max, position: 'bottom',
      axisLine: {show: false, onZero: false}, axisLabel: {show: false}, splitLine: {show: false},
      axisTick: {show: true, customValues: col.minor, length: 2.5, lineStyle: tickStyle}});
  } else {
    xAxis.push({gridIndex: gi, type: 'value', min: col.min, max: col.max, show: false});
  }
  yAxis.push({gridIndex: gi, type: 'value', min: -6, max: 54, show: false});
  series.push({type: 'line', xAxisIndex: xi, yAxisIndex: gi, data: data, symbol: 'none', showSymbol: false,
    smooth: col.smooth, smoothMonotone: 'x', clip: false, silent: true,
    lineStyle: {color: INK, width: 1}});
}

columns.forEach(col => {
  col.ali.forEach((d, r) => addTrace(col, d, aliBase[r], r === col.ali.length - 1, 17));
  col.aro.forEach((d, r) => addTrace(col, d, aroBase[r], r === col.aro.length - 1, 13));
});

// Panel (a): broken ppm axis, two grids
function addPpmPanel(left, width, min, max, data, ticks, minor, labels, ppms, levels) {
  const gi = grid.length;
  grid.push({left: left, width: width, top: 20, height: 84, outerBoundsMode: 'none'});
  const xi = xAxis.length;
  xAxis.push({gridIndex: gi, type: 'value', min: min, max: max, inverse: true, position: 'bottom',
    axisLine: {show: true, onZero: false, lineStyle: tickStyle},
    axisTick: {show: true, customValues: minor, length: 5, lineStyle: tickStyle},
    axisLabel: {show: true, customValues: ticks, margin: 7, fontSize: 13, color: '#000', fontFamily: FONT},
    splitLine: {show: false}});
  yAxis.push({gridIndex: gi, type: 'value', min: -4, max: 80, show: false});
  series.push({type: 'line', xAxisIndex: xi, yAxisIndex: gi, data: data, symbol: 'none', showSymbol: false,
    clip: false, silent: true, lineStyle: {color: INK, width: 1}});
  series.push({type: 'scatter', xAxisIndex: xi, yAxisIndex: gi, symbol: 'circle', symbolSize: 2, silent: true,
    clip: false, itemStyle: {color: 'rgba(0,0,0,0)'},
    data: labels.map((t, k) => {
      const greek = /[α-ω]/.test(t);
      return {value: [ppms[k], levels[k]], name: t,
        label: {show: true, position: 'inside', formatter: t, color: '#000',
          fontSize: greek ? 16 : 15, fontFamily: greek ? SERIF : FONT}};
    })});
}
addPpmPanel(52, 333, 130, 210, specLeft, ppmTicksLeft, ppmMinorLeft, peakLabelsLeft, peakLabelPpmLeft, peakLabelLevelLeft);
addPpmPanel(397, 193, -10, 40, specRight, ppmTicksRight, ppmMinorRight, peakLabelsRight, peakLabelPpmRight, peakLabelLevelRight);

// Text annotations
function txt(x, y, s, size, family, align, rot) {
  return {type: 'text', x: x, y: y, rotation: rot || 0, silent: true,
    style: {text: s, fontSize: size, fontFamily: family, fill: '#000',
      align: align || 'center', verticalAlign: 'middle', textAlign: align || 'center', textVerticalAlign: 'middle'}};
}
const graphic = [
  txt(9, 26, '(a)', 20, FONT, 'left'),
  txt(9, 189, '(b)', 20, FONT, 'left'),
  txt(131, 188, 'SLF', 20, FONT),
  txt(341, 188, 'PDLF', 20, FONT),
  txt(557, 188, 'PISEMA', 20, FONT),
  txt(322, 137, 'ppm', 13, FONT),
  txt(25, 357, 'aliphatic carbons', 21, FONT, 'center', Math.PI / 2),
  txt(25, 711, 'aromatic carbons', 21, FONT, 'center', Math.PI / 2),
  {type: 'line', silent: true, shape: {x1: 381, y1: 112, x2: 389, y2: 96}, style: {stroke: '#000', lineWidth: 1}},
  {type: 'line', silent: true, shape: {x1: 392, y1: 112, x2: 400, y2: 96}, style: {stroke: '#000', lineWidth: 1}}
];
const aliLabelY = [240, 297, 350, 393, 442];
const aliLabelX = [35, 35, 35, 33, 33];
aliLabels.forEach((s, k) => graphic.push(txt(aliLabelX[k], aliLabelY[k], s, 16, SERIF, 'left')));
const aroLabelY = [545, 597, 647, 697, 742, 797, 845, 890];
aroLabels.forEach((s, k) => graphic.push(txt(35, aroLabelY[k], s, 16, FONT, 'left')));

const chart = echarts.init(document.getElementById('c'), null, {renderer: 'canvas'});
chart.setOption({
  animation: false,
  backgroundColor: '#fff',
  grid: grid, xAxis: xAxis, yAxis: yAxis, series: series, graphic: graphic
});
</script></body></html>
